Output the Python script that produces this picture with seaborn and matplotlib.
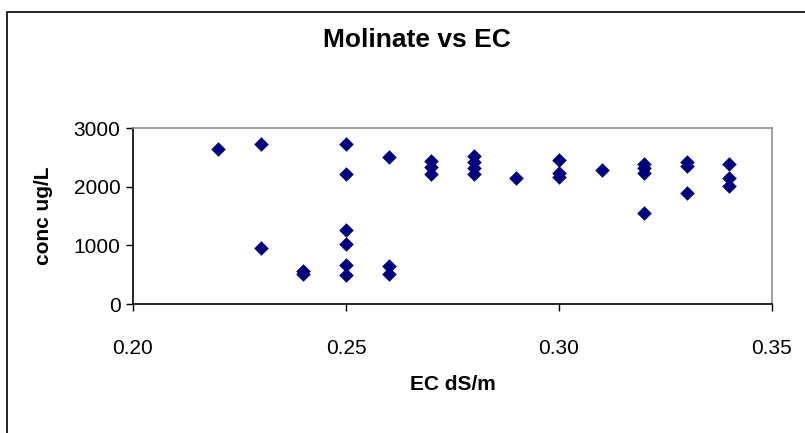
import matplotlib
matplotlib.use("Agg")
import matplotlib.pyplot as plt
import seaborn as sns
import pandas as pd
from matplotlib.patches import Rectangle

# EC (dS/m) and molinate concentration (ug/L)
ec = [0.22,
      0.23, 0.23,
      0.24, 0.24,
      0.25, 0.25, 0.25, 0.25, 0.25, 0.25,
      0.26, 0.26, 0.26,
      0.27, 0.27, 0.27,
      0.28, 0.28, 0.28, 0.28,
      0.29,
      0.30, 0.30, 0.30,
      0.31,
      0.32, 0.32, 0.32, 0.32,
      0.33, 0.33, 0.33,
      0.34, 0.34, 0.34]
conc = [2650,
        2730, 950,
        560, 510,
        2730, 2210, 1260, 1020, 660, 500,
        2510, 650, 510,
        2430, 2340, 2220,
        2530, 2420, 2310, 2220,
        2150,
        2450, 2230, 2170,
        2280,
        2390, 2310, 2230, 1550,
        2420, 2360, 1890,
        2380, 2140, 2010]

xticks = [0.20, 0.25, 0.30, 0.35]
yticks = [0, 1000, 2000, 3000]

df = pd.DataFrame({"EC": ec, "conc": conc})

sns.set_style("white")
plt.rcParams["font.family"] = ["Liberation Sans", "DejaVu Sans"]
plt.rcParams["text.color"] = "black"
plt.rcParams["axes.labelcolor"] = "black"
plt.rcParams["xtick.color"] = "black"
plt.rcParams["ytick.color"] = "black"

fig = plt.figure(figsize=(8.05, 4.33), dpi=100)
ax = fig.add_axes([133 / 805, 1 - 304 / 433, (772 - 133) / 805, (304 - 128) / 433])

sns.scatterplot(data=df, x="EC", y="conc", marker="D", color="#000080",
                s=55, edgecolor="#000080", linewidth=0, ax=ax, legend=False)

ax.set_xlim(0.20, 0.35)
ax.set_ylim(0, 3000)
ax.set_xticks(xticks)
ax.set_xticklabels([f"{v:.2f}" for v in xticks])
ax.set_yticks(yticks)
ax.set_yticklabels([str(v) for v in yticks])
ax.tick_params(axis="both", direction="out", length=5, width=1, color="black",
               labelsize=15, labelcolor="black", pad=4, bottom=True, left=True)
ax.tick_params(axis="x", pad=20)

for side in ["left", "bottom"]:
    ax.spines[side].set_color("black")
    ax.spines[side].set_linewidth(1.2)
for side in ["top", "right"]:
    ax.spines[side].set_color("#909090")
    ax.spines[side].set_linewidth(1.2)

ax.set_xlabel("EC dS/m", fontsize=15, fontweight="bold", color="black")
ax.set_ylabel("conc ug/L", fontsize=15, fontweight="bold", color="black")
ax.xaxis.set_label_coords((453 - 133) / (772 - 133), -(375 - 304) / (304 - 128))
ax.yaxis.set_label_coords(-(133 - 53) / (772 - 133), 0.5)

fig.text(417 / 805, 1 - 40 / 433, "Molinate vs EC", fontsize=19, fontweight="bold",
         ha="center", va="center", color="black")

# outer chart border
fig.patches.append(Rectangle((7 / 805, -0.1), 1.0, 1 - 12 / 433 + 0.1,
                             transform=fig.transFigure, fill=False,
                             edgecolor="black", linewidth=1.2))

fig.savefig("out.png", dpi=100)
